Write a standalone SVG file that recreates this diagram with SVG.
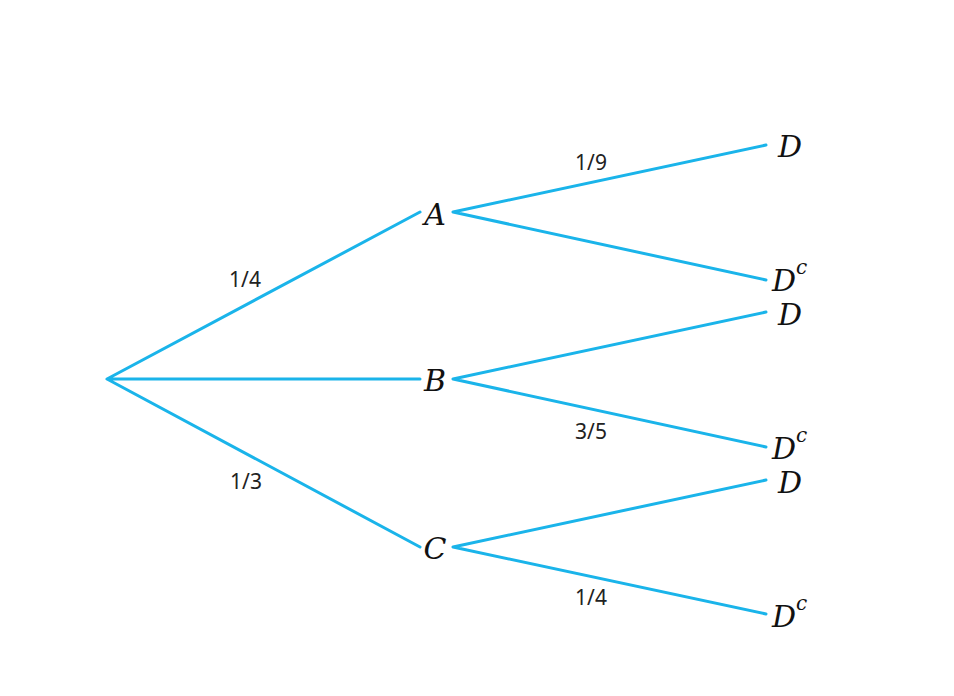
<svg xmlns="http://www.w3.org/2000/svg" width="954" height="696" viewBox="0 0 954 696">
<style>
.e{stroke:#1ab4ea;stroke-width:3;fill:none;stroke-linecap:round}
.n{font-family:"DejaVu Serif","Liberation Serif",serif;font-style:italic;font-size:30px;fill:#111;text-anchor:middle}
.s{font-family:"DejaVu Serif","Liberation Serif",serif;font-style:italic;font-size:20px;fill:#111}
.p{font-family:"Noto Sans","DejaVu Sans",sans-serif;font-size:21px;fill:#222;text-anchor:middle}
</style>
<rect width="954" height="696" fill="#fff"/>
<g id="connectors">
<path class="e" d="M107 379L420 212M107 379L420 379M107 379L420 547"/>
<path class="e" d="M453 212L766 145M453 212L766 280M453 379L766 312M453 379L766 447M453 547L766 480M453 547L766 614"/>
</g>
<g id="edge-labels">
<text class="p" x="245" y="287">1/4</text>
<text class="p" x="246" y="489">1/3</text>
<text class="p" x="591" y="170">1/9</text>
<text class="p" x="591" y="439">3/5</text>
<text class="p" x="591" y="605">1/4</text>
</g>
<g id="A"><text class="n" x="435" y="225">A</text></g>
<g id="B"><text class="n" x="435" y="391">B</text></g>
<g id="C"><text class="n" x="435" y="559">C</text></g>
<g id="AD"><text class="n" x="790" y="157">D</text></g>
<g id="ADc"><text class="n" x="784" y="291">D</text><text class="s" x="796" y="274">c</text></g>
<g id="BD"><text class="n" x="790" y="325">D</text></g>
<g id="BDc"><text class="n" x="784" y="459">D</text><text class="s" x="796" y="442">c</text></g>
<g id="CD"><text class="n" x="790" y="493">D</text></g>
<g id="CDc"><text class="n" x="784" y="627">D</text><text class="s" x="796" y="610">c</text></g>
</svg>
